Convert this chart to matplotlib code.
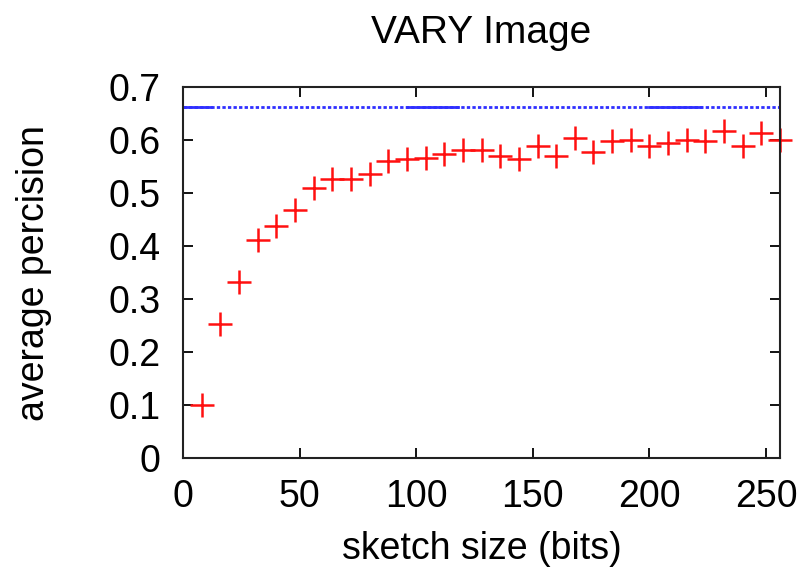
import matplotlib
matplotlib.use("Agg")
import matplotlib.pyplot as plt

# sketch size (bits) vs average precision
sketch_bits = [8, 16, 24, 32, 40, 48, 56, 64, 72, 80, 88, 96, 104, 112, 120, 128,
               136, 144, 152, 160, 168, 176, 184, 192, 200, 208, 216, 224, 232, 240, 248, 256]
avg_precision = [0.100, 0.253, 0.333, 0.412, 0.439, 0.469, 0.510, 0.526, 0.526, 0.537,
                 0.561, 0.564, 0.567, 0.575, 0.582, 0.582, 0.570, 0.564, 0.589, 0.570,
                 0.605, 0.578, 0.599, 0.601, 0.589, 0.594, 0.601, 0.599, 0.618, 0.589,
                 0.613, 0.601]

# reference level (blue line)
ref_level = 0.662
ref_x = [0, 256]
# stretches where the blue line looks solid
solid_spans = [(0, 12), (96, 118), (200, 222)]

plt.rcParams['font.family'] = ['Liberation Sans', 'DejaVu Sans']

fig = plt.figure(figsize=(8.1, 5.71), dpi=100)
ax = fig.add_axes([0.226, 0.198, 0.737, 0.649])

ax.plot(ref_x, [ref_level, ref_level], color='#3030ff', lw=2, ls=(0, (1.2, 0.8)))
for a, b in solid_spans:
    ax.plot([a, b], [ref_level, ref_level], color='#3030ff', lw=2)

ax.plot(sketch_bits, avg_precision, ls='none', marker='+', ms=17.5, mew=1.8,
        color='#ff1010', clip_on=False)

ax.set_xlim(0, 256)
ax.set_ylim(0, 0.7)
ax.set_xticks([0, 50, 100, 150, 200, 250])
ax.set_yticks([0, 0.1, 0.2, 0.3, 0.4, 0.5, 0.6, 0.7])
ax.set_yticklabels(['0', '0.1', '0.2', '0.3', '0.4', '0.5', '0.6', '0.7'])
ax.tick_params(direction='in', length=7, width=1.3, top=True, right=True,
               labelsize=27)
ax.tick_params(axis='x', pad=15)
ax.tick_params(axis='y', pad=16)
for s in ax.spines.values():
    s.set_linewidth(1.5)
    s.set_color('#222222')

ax.set_title('VARY Image', fontsize=28, pad=32)
ax.set_xlabel('sketch size (bits)', fontsize=27, labelpad=12)
ax.set_ylabel('average percision', fontsize=27, labelpad=41)

fig.savefig('out.png', dpi=100)
